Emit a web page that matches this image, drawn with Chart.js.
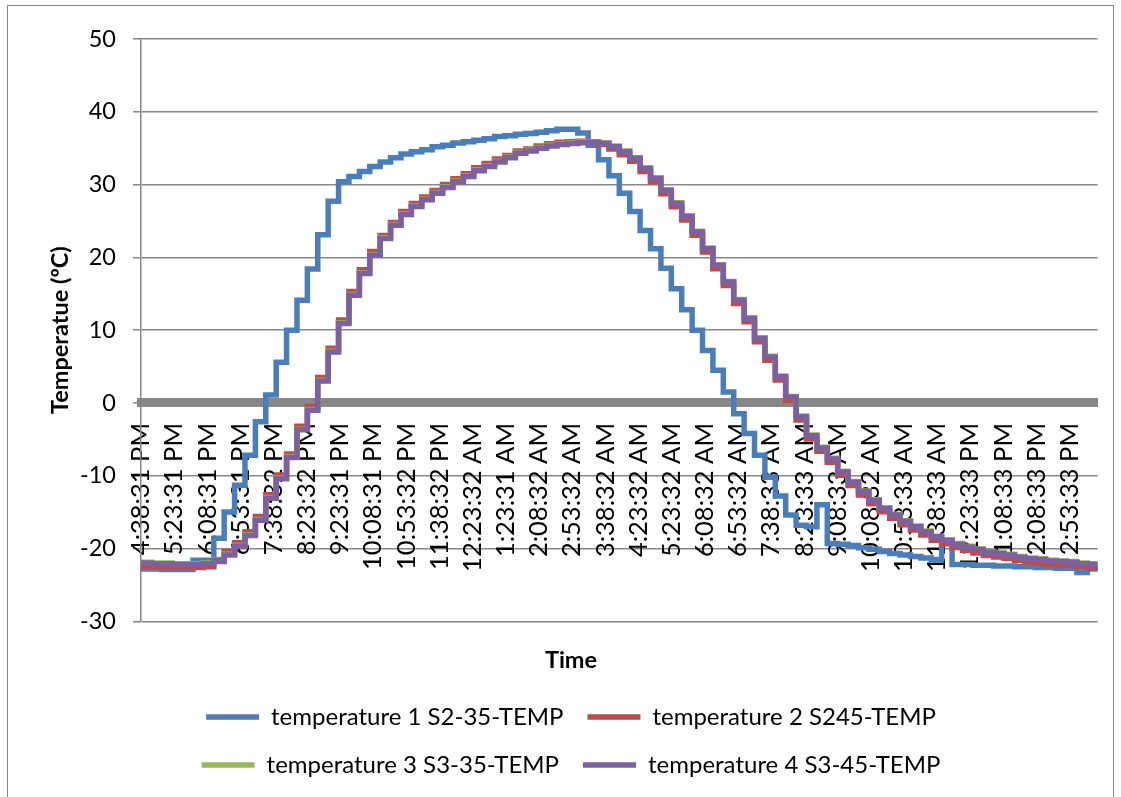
<!DOCTYPE html>
<html>
<head>
<meta charset="utf-8">
<title>Temperature</title>
<script src="https://cdn.jsdelivr.net/npm/chart.js@4.4.1/dist/chart.umd.min.js"></script>
<style>
  html, body { margin: 0; padding: 0; background: #fff; }
  #wrap { position: relative; width: 1121px; height: 797px; overflow: hidden; }
  #frame { position: absolute; left: 7px; top: 5px; width: 1107px; height: 820px; border: 1.5px solid #868686; box-sizing: border-box; }
  #myChart { position: absolute; left: 0; top: 0; }
</style>
</head>
<body>
<div id="wrap">
  <div id="frame"></div>
  <canvas id="myChart" width="1121" height="797"></canvas>
</div>
<script>
// one reading per logger step (steps are equally spaced on the axis)
const tickLabels = [
  "4:38:31 PM", "5:23:31 PM", "6:08:31 PM", "6:53:31 PM", "7:38:32 PM", "8:23:32 PM",
  "9:23:31 PM", "10:08:31 PM", "10:53:32 PM", "11:38:32 PM", "12:23:32 AM", "1:23:31 AM",
  "2:08:32 AM", "2:53:32 AM", "3:38:32 AM", "4:23:32 AM", "5:23:32 AM", "6:08:32 AM",
  "6:53:32 AM", "7:38:33 AM", "8:23:33 AM", "9:08:33 AM", "10:08:32 AM", "10:53:33 AM",
  "11:38:33 AM", "12:23:33 PM", "1:08:33 PM", "2:08:33 PM", "2:53:33 PM"
];
const STEPS_PER_LABEL = 3.19;
const TOTAL_STEPS = 92;

const temp1 = [
  -22.8, -22.8, -22.9, -22.9, -22.9, -21.6, -21.6, -18.6, -15.0, -11.3,
  -7.2, -2.6, 1.1, 5.6, 10.0, 14.1, 18.4, 23.1, 27.7, 30.4,
  31.1, 31.8, 32.5, 33.1, 33.7, 34.2, 34.5, 34.8, 35.2, 35.4,
  35.7, 35.9, 36.1, 36.3, 36.6, 36.7, 36.9, 37.0, 37.2, 37.4,
  37.6, 37.6, 37.1, 35.4, 33.4, 31.2, 28.8, 26.3, 23.7, 21.2,
  18.5, 15.7, 12.8, 10.0, 7.2, 4.5, 1.5, -1.5, -4.2, -7.2,
  -10.2, -12.8, -15.4, -16.8, -17.0, -14.0, -19.3, -19.4, -19.6, -19.9,
  -20.1, -20.4, -20.7, -20.9, -21.1, -21.3, -21.5, -19.2, -22.2, -22.2,
  -22.3, -22.3, -22.4, -22.4, -22.5, -22.5, -22.6, -22.6, -22.7, -22.7,
  -23.3, -22.8, -22.8
];

const temp2 = [
  -22.5, -22.5, -22.6, -22.6, -22.6, -22.6, -22.5, -21.8, -20.4, -19.2,
  -17.7, -15.6, -12.6, -9.9, -7.0, -3.2, -0.5, 3.5, 7.5, 11.4,
  15.3, 18.3, 20.8, 23.0, 24.8, 26.3, 27.4, 28.3, 29.2, 30.0,
  30.8, 31.5, 32.3, 32.9, 33.5, 34.0, 34.6, 34.9, 35.3, 35.6,
  35.8, 35.9, 35.95, 35.9, 35.5, 34.9, 34.1, 33.2, 31.8, 30.4,
  28.75, 26.95, 25.15, 23.05, 20.75, 18.45, 16.15, 13.65, 11.15, 8.4,
  5.85, 3.15, 0.35, -2.35, -4.95, -6.65, -8.15, -9.95, -11.35, -12.65,
  -13.85, -14.95, -15.85, -16.75, -17.45, -18.15, -18.85, -19.35, -19.85, -20.25,
  -20.6, -20.95, -21.15, -21.35, -21.65, -21.85, -21.95, -22.15, -22.25, -22.35,
  -22.55, -22.65, -22.65
];

const temp3 = [
  -21.9, -22.0, -22.0, -22.1, -22.1, -22.1, -22.0, -21.5, -20.8, -19.6,
  -18.1, -16.0, -13.0, -10.3, -7.4, -3.6, -0.9, 3.1, 7.1, 11.0,
  14.9, 17.9, 20.4, 22.7, 24.5, 26.0, 27.1, 28.0, 28.9, 29.7,
  30.5, 31.2, 32.0, 32.6, 33.2, 33.8, 34.4, 34.7, 35.1, 35.4,
  35.6, 35.75, 35.85, 35.9, 35.75, 35.3, 34.6, 33.7, 32.3, 30.95,
  29.3, 27.5, 25.7, 23.6, 21.3, 19.0, 16.7, 14.2, 11.7, 8.95,
  6.4, 3.7, 0.9, -1.8, -4.4, -6.1, -7.6, -9.4, -10.8, -12.1,
  -13.3, -14.4, -15.3, -16.2, -16.9, -17.6, -18.3, -18.8, -19.3, -19.7,
  -20.05, -20.4, -20.6, -20.8, -21.1, -21.3, -21.4, -21.6, -21.7, -21.8,
  -22.0, -22.1, -22.1
];

const temp4 = [
  -22.0, -22.1, -22.1, -22.2, -22.2, -22.2, -22.1, -21.6, -20.9, -19.7,
  -18.2, -16.1, -13.1, -10.4, -7.5, -3.7, -1.0, 3.0, 7.0, 10.9,
  14.8, 17.8, 20.3, 22.6, 24.4, 25.9, 27.0, 27.9, 28.8, 29.6,
  30.4, 31.1, 31.9, 32.5, 33.1, 33.7, 34.3, 34.6, 35.0, 35.3,
  35.5, 35.65, 35.75, 35.8, 35.65, 35.2, 34.5, 33.6, 32.2, 30.85,
  29.2, 27.4, 25.6, 23.5, 21.2, 18.9, 16.6, 14.1, 11.6, 8.85,
  6.3, 3.6, 0.8, -1.9, -4.5, -6.2, -7.7, -9.5, -10.9, -12.2,
  -13.4, -14.5, -15.4, -16.3, -17.0, -17.7, -18.4, -18.9, -19.4, -19.8,
  -20.15, -20.5, -20.7, -20.9, -21.2, -21.4, -21.5, -21.7, -21.8, -21.9,
  -22.1, -22.2, -22.2
];

const seriesNames = [
  "temperature 1 S2-35-TEMP",
  "temperature 2 S245-TEMP",
  "temperature 3 S3-35-TEMP",
  "temperature 4 S3-45-TEMP"
];
const seriesColors = ["#4A7EBB", "#BE4B48", "#98B954", "#7D60A0"];

const FONT = "Lato";
const gray = "#878787";

function toPoints(values) {
  return values.map((v, i) => ({ x: i, y: v }));
}

function chartData() {
  const ctx = document.getElementById("myChart");
  const all = [temp1, temp2, temp3, temp4];

  new Chart(ctx, {
    type: "line",
    data: {
      datasets: all.map((values, k) => ({
        label: seriesNames[k],
        data: toPoints(values),
        borderColor: seriesColors[k],
        backgroundColor: seriesColors[k],
        borderWidth: 5.5,
        borderCapStyle: "round",
        pointRadius: 0,
        stepped: true,
        order: 4 - k,
      })),
    },
    options: {
      responsive: false,
      animation: false,
      events: [],
      layout: { padding: { left: 42, right: 21, top: 39, bottom: 10 } },
      scales: {
        x: {
          type: "linear",
          min: 0,
          max: TOTAL_STEPS,
          bounds: "data",
          position: { y: 0 },
          grid: { display: false, drawTicks: false },
          border: { display: true, color: gray, width: 9 },
          afterBuildTicks: (axis) => {
            axis.ticks = tickLabels.map((t, k) => ({ value: k * STEPS_PER_LABEL }));
          },
          afterFit: (axis) => {
            axis.height = 0;
          },
          ticks: {
            autoSkip: false,
            minRotation: 90,
            maxRotation: 90,
            padding: 20,
            color: "#000",
            font: { family: FONT, size: 25.5 },
            callback: (value, index) => tickLabels[index],
          },
        },
        y: {
          min: -30,
          max: 50,
          ticks: {
            stepSize: 10,
            padding: 17,
            color: "#000",
            font: { family: FONT, size: 23.5 },
          },
          grid: { color: gray, lineWidth: 1.5, tickLength: 8 },
          border: { color: gray, width: 1.5 },
          title: {
            display: true,
            text: "Temperatue (ºC)",
            color: "#000",
            font: { family: FONT, size: 23.5, weight: "bold" },
            padding: { top: 4, bottom: 0 },
          },
          afterFit: (axis) => {
            axis.width = 99;
          },
        },
      },
      plugins: {
        tooltip: { enabled: false },
        title: {
          display: true,
          text: "Time",
          position: "bottom",
          weight: 500,
          color: "#000",
          font: { family: FONT, size: 23.5, weight: "bold" },
          padding: { top: 25, bottom: 6.5 },
        },
        legend: {
          position: "bottom",
          labels: {
            color: "#000",
            font: { family: FONT, size: 24 },
            usePointStyle: true,
            pointStyle: "line",
            pointStyleWidth: 53,
            padding: 24,
            sort: (a, b) => a.datasetIndex - b.datasetIndex,
          },
        },
      },
    },
  });
}

if (document.fonts && document.fonts.load) {
  Promise.all([
    document.fonts.load("23.5px Lato"),
    document.fonts.load("bold 23.5px Lato"),
  ]).then(chartData, chartData);
} else {
  chartData();
}
</script>
</body>
</html>
